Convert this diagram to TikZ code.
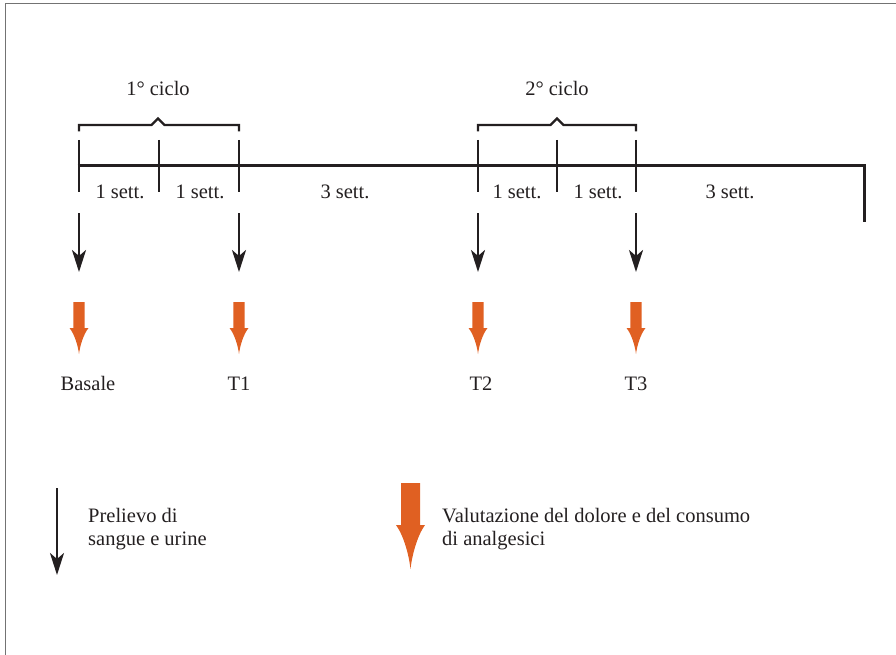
\documentclass[tikz,border=0pt]{standalone}
\usepackage{fontspec}
\setmainfont{Liberation Serif}
\usetikzlibrary{arrows.meta}
\definecolor{ink}{RGB}{35,31,32}
\definecolor{orng}{RGB}{224,96,34}
\definecolor{framegray}{RGB}{115,115,115}
\newcommand\orangearrow[6]{% x, top, headstart, tip, shaft half width, head half width
  \fill[orng] (#1-#5,#2) -- (#1+#5,#2) -- (#1+#5,#3) -- (#1+#6,#3)
    .. controls (#1+0.45*#6,#3+0.25*#4-0.25*#3) and (#1+0.1*#6,#4-0.3*#4+0.3*#3) .. (#1,#4)
    .. controls (#1-0.1*#6,#4-0.3*#4+0.3*#3) and (#1-0.45*#6,#3+0.25*#4-0.25*#3) .. (#1-#6,#3)
    -- (#1-#5,#3) -- cycle;}
\begin{document}
\begin{tikzpicture}[x=1pt,y=-1pt,
  lbl/.style={font=\fontsize{20.5}{23}\selectfont, text=ink, inner sep=0pt, anchor=base},
  legtext/.style={font=\fontsize{20.5}{24}\selectfont, text=ink, inner sep=0pt, anchor=base west},
  timeline/.style={draw=ink, line width=3pt, line join=miter},
  tickline/.style={draw=ink, line width=2.8pt},
  bracket/.style={draw=ink, line width=2.3pt, line join=miter},
  blackarrow/.style={draw=ink, line width=2.5pt, -{Stealth[length=22pt,width=14pt,inset=6pt]}}]
\useasboundingbox (0,0) rectangle (896,655);
% frame
\draw[framegray, line width=1.6pt] (5.5,655) -- (5.5,3.5) -- (896,3.5);
% timeline
\coordinate (t0) at (77.6,166);
\coordinate (tEnd) at (864,166);
\coordinate (tEndDown) at (864,222);
\draw[timeline] (t0) -- (tEnd) -- (tEndDown);
% ticks
\foreach \n/\x in {a/79,b/159,c/239,d/478,e/557,f/636}{
  \coordinate (tick\n top) at (\x,140);
  \coordinate (tick\n bot) at (\x,192);
  \draw[tickline] (tick\n top) -- (tick\n bot);
}
% brackets
\draw[bracket] (79,131.5) -- (79,125) -- (151.5,125) -- (158,118.5) -- (164.5,125) -- (239,125) -- (239,131.5);
\draw[bracket] (478,131.5) -- (478,125) -- (550.5,125) -- (557,118.5) -- (563.5,125) -- (636,125) -- (636,131.5);
\node[lbl] (c1) at (158,96) {1° ciclo};
\node[lbl] (c2) at (557,96) {2° ciclo};
% week labels
\node[lbl] (w1) at (120,198) {1 sett.};
\node[lbl] (w2) at (200,198) {1 sett.};
\node[lbl] (w3) at (345,198) {3 sett.};
\node[lbl] (w4) at (517,198) {1 sett.};
\node[lbl] (w5) at (598,198) {1 sett.};
\node[lbl] (w6) at (730,198) {3 sett.};
% black arrows
\foreach \n/\x in {a/79,c/239,d/478,f/636}{
  \coordinate (ba\n s) at (\x,213);
  \coordinate (ba\n e) at (\x,272);
  \draw[blackarrow] (ba\n s) -- (ba\n e);
}
% orange arrows
\foreach \x in {79,239,478,636}{
  \orangearrow{\x}{302}{328}{354}{5.6}{9.5}
}
% time point labels
\node[lbl] (basale) at (88,390) {Basale};
\node[lbl] (T1) at (239,390) {T1};
\node[lbl] (T2) at (481,390) {T2};
\node[lbl] (T3) at (636,390) {T3};
% legend
\coordinate (legbs) at (57,488);
\coordinate (legbe) at (57,575);
\draw[blackarrow] (legbs) -- (legbe);
\node[legtext] (leg1a) at (88,522) {Prelievo di};
\node[legtext] (leg1b) at (88,545) {sangue e urine};
\orangearrow{410.5}{483}{525}{569}{9.5}{14.5}
\node[legtext] (leg2a) at (442,522) {Valutazione del dolore e del consumo};
\node[legtext] (leg2b) at (442,545) {di analgesici};
\end{tikzpicture}
\end{document}
